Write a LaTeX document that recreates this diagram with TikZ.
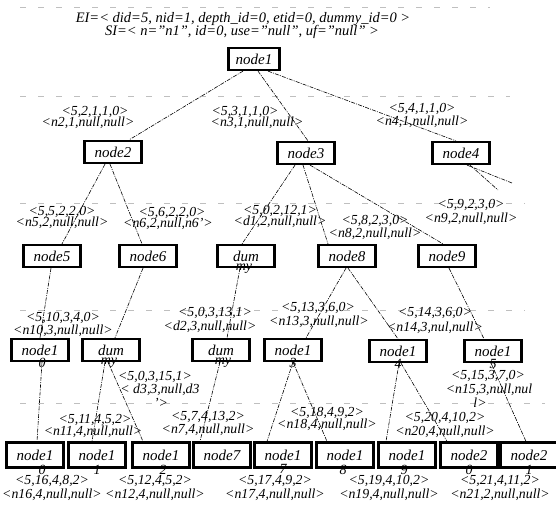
\documentclass[tikz,border=0pt]{standalone}
\usepackage{fontspec}
\setmainfont{Liberation Serif}
\begin{document}
\begin{tikzpicture}[x=1pt,y=-1pt,
  box/.style={draw, line width=2.2pt, minimum width=57pt, minimum height=22pt, inner sep=0pt, fill=white, font=\fontsize{15}{15}\selectfont\itshape},
  topbox/.style={box, minimum width=51pt},
  lowbox/.style={box, minimum height=25pt},
  lab/.style={inner sep=0pt, font=\fontsize{13.8}{13.8}\selectfont\itshape},
  ovf/.style={inner sep=0pt, font=\fontsize{14}{14}\selectfont\itshape},
  head/.style={inner sep=0pt, font=\fontsize{14.5}{14.5}\selectfont\itshape},
  edge/.style={line width=0.6pt, dash pattern=on 4pt off 1.2pt on 1pt off 1.2pt},
  guide/.style={gray!50, line width=0.7pt, dash pattern=on 6pt off 12pt}]
\useasboundingbox (0,0) rectangle (556,508);
% guide lines
\draw[guide] (20,7) -- (490,7);
\draw[guide] (20,96) -- (510,96);
\draw[guide] (20,203) -- (525,203);
\draw[guide] (20,310) -- (525,310);
\draw[guide] (20,403) -- (545,403);
% header
\node[head] (ei) at (243,19) {EI=< did=5, nid=1, depth\_id=0, etid=0, dummy\_id=0 >};
\node[head] (si) at (242,32) {SI=< n="n1", id=0, use="null", uf="null" >};
% nodes row 0-1
\node[topbox] (n1) at (254,59) {node1};
\node[box] (n2) at (113,152) {node2};
\node[box] (n3) at (306,153) {node3};
\node[box] (n4) at (461,153) {node4};
% row 2
\node[box] (n5) at (52,256) {node5};
\node[box] (n6) at (148,256) {node6};
\node[box] (d1) at (246,256) {dum};
\node[box] (n8) at (347,256) {node8};
\node[box] (n9) at (447,256) {node9};
% row 3
\node[box] (n10) at (40,350) {node1};
\node[box] (d3) at (111,350) {dum};
\node[box] (d2) at (221,350) {dum};
\node[box] (n13) at (293,350) {node1};
\node[box] (n14) at (398,351) {node1};
\node[box] (n15) at (493,351) {node1};
% row 4
\node[lowbox] (n16) at (35,455) {node1};
\node[lowbox] (n11) at (97,455) {node1};
\node[lowbox] (n12) at (161,455) {node1};
\node[lowbox] (n7) at (222,455) {node7};
\node[lowbox] (n17) at (283,455) {node1};
\node[lowbox] (n18) at (345,455) {node1};
\node[lowbox] (n19) at (407,455) {node1};
\node[lowbox] (n20) at (469,455) {node2};
\node[lowbox] (n21) at (529,455) {node2};
% overflow text
\node[ovf, anchor=north] (d1o) at ([xshift=-2pt,yshift=4pt]d1.south) {my};
\node[ovf, anchor=north] (n10o) at ([xshift=2pt,yshift=4pt]n10.south) {0};
\node[ovf, anchor=north] (d3o) at ([xshift=-2pt,yshift=4pt]d3.south) {my};
\node[ovf, anchor=north] (d2o) at ([xshift=2pt,yshift=4pt]d2.south) {my};
\node[ovf, anchor=north] (n13o) at ([yshift=4pt]n13.south) {3};
\node[ovf, anchor=north] (n14o) at ([yshift=4pt]n14.south) {4};
\node[ovf, anchor=north] (n15o) at ([yshift=4pt]n15.south) {5};
\node[ovf, anchor=north] (n16o) at ([xshift=7pt,yshift=4pt]n16.south) {0};
\node[ovf, anchor=north] (n11o) at ([yshift=4pt]n11.south) {1};
\node[ovf, anchor=north] (n12o) at ([xshift=2pt,yshift=4pt]n12.south) {2};
\node[ovf, anchor=north] (n17o) at ([yshift=4pt]n17.south) {7};
\node[ovf, anchor=north] (n18o) at ([xshift=-2pt,yshift=4pt]n18.south) {8};
\node[ovf, anchor=north] (n19o) at ([xshift=-3pt,yshift=4pt]n19.south) {9};
\node[ovf, anchor=north] (n20o) at ([yshift=4pt]n20.south) {0};
\node[ovf, anchor=north] (n21o) at ([yshift=4pt]n21.south) {1};
% edges
\draw[edge] ([xshift=-11pt]n1.south) -- ([xshift=16pt]n2.north);
\draw[edge] ([xshift=4pt]n1.south) -- ([xshift=2pt]n3.north);
\draw[edge] ([xshift=14pt]n1.south) -- ([xshift=-5pt]n4.north);
\coordinate (o1) at (512,183);
\coordinate (o2) at (498,190);
\draw[edge] ([xshift=6pt]n4.south) -- (o1);
\draw[edge] ([xshift=9pt]n4.south) -- (o2);
\draw[edge] ([xshift=-8pt]n2.south) -- ([xshift=10pt]n5.north);
\draw[edge] ([xshift=-3pt]n2.south) -- ([xshift=-6pt]n6.north);
\draw[edge] ([xshift=-11pt]n3.south) -- ([xshift=-4pt]d1.north);
\draw[edge] ([xshift=-3pt]n3.south) -- ([xshift=-19pt]n8.north);
\draw[edge] ([xshift=4pt]n3.south) -- ([xshift=-4pt]n9.north);
\draw[edge] ([xshift=-1pt]n5.south) -- ([xshift=0pt]n10.north);
\draw[edge] ([xshift=-5pt]n6.south) -- ([xshift=4pt]d3.north);
\draw[edge] ([xshift=-6pt]d1.south) -- ([xshift=6pt]d2.north);
\draw[edge] ([xshift=-1pt]n8.south) -- ([xshift=13pt]n13.north);
\draw[edge] ([xshift=1pt]n8.south) -- ([xshift=0pt]n14.north);
\draw[edge] ([xshift=2pt]n9.south) -- ([xshift=-9pt]n15.north);
\draw[edge] ([xshift=2pt]n10.south) -- ([xshift=2pt]n16.north);
\draw[edge] ([xshift=-6pt]d3.south) -- ([xshift=-5pt]n11.north);
\draw[edge] ([xshift=-3pt]d3.south) -- ([xshift=-18pt]n12.north);
\draw[edge] ([xshift=-1pt]d2.south) -- ([xshift=-22pt]n7.north);
\draw[edge] (n13.south) -- ([xshift=-16pt]n17.north);
\draw[edge] (n13.south) -- ([xshift=-18pt]n18.north);
\draw[edge] ([xshift=1pt]n14.south) -- ([xshift=-21pt]n19.north);
\draw[edge] ([xshift=3pt]n14.south) -- ([xshift=-22pt]n20.north);
\draw[edge] ([xshift=-2pt]n15.south) -- ([xshift=-3pt]n21.north);
% labels level 1
\node[lab] (l2a) at (95,112) {<5,2,1,1,0>};
\node[lab] (l2b) at (88,123) {<n2,1,null,null>};
\node[lab] (l3a) at (245,112) {<5,3,1,1,0>};
\node[lab] (l3b) at (257,123) {<n3,1,null,null>};
\node[lab] (l4a) at (422,109) {<5,4,1,1,0>};
\node[lab] (l4b) at (422,122) {<n4,1,null,null>};
% labels level 2
\node[lab] (l5a) at (62,212) {<5,5,2,2,0>};
\node[lab] (l5b) at (62,223) {<n5,2,null,null>};
\node[lab] (l6a) at (172,213) {<5,6,2,2,0>};
\node[lab] (l6b) at (168,224) {<n6,2,null,n6'>};
\node[lab] (ld1a) at (280,211) {<5,0,2,12,1>};
\node[lab] (ld1b) at (280,222) {<d1,2,null,null>};
\node[lab] (l8a) at (375,221) {<5,8,2,3,0>};
\node[lab] (l8b) at (375,234) {<n8,2,null,null>};
\node[lab] (l9a) at (471,205) {<5,9,2,3,0>};
\node[lab] (l9b) at (471,219) {<n9,2,null,null>};
% labels level 3
\node[lab] (l10a) at (63,318) {<5,10,3,4,0>};
\node[lab] (l10b) at (63,331) {<n10,3,null,null>};
\node[lab] (ld2a) at (215,313) {<5,0,3,13,1>};
\node[lab] (ld2b) at (210,327) {<d2,3,null,null>};
\node[lab] (l13a) at (318,308) {<5,13,3,6,0>};
\node[lab] (l13b) at (319,322) {<n13,3,null,null>};
\node[lab] (l14a) at (435,313) {<5,14,3,6,0>};
\node[lab] (l14b) at (435,328) {<n14,3,nul,null>};
\node[lab] (l15a) at (488,376) {<5,15,3,7,0>};
\node[lab] (l15b) at (489,390) {<n15,3,null,nul};
\node[lab] (l15c) at (480,403) {l>};
\node[lab] (ld3a) at (155,377) {<5,0,3,15,1>};
\node[lab] (ld3b) at (160,390) {< d3,3,null,d3};
\node[lab] (ld3c) at (161,403) {'>};
% labels level 4 (above)
\node[lab] (l11a) at (95,420) {<5,11,4,5,2>};
\node[lab] (l11b) at (93,432) {<n11,4,null,null>};
\node[lab] (l7a) at (208,417) {<5,7,4,13,2>};
\node[lab] (l7b) at (208,430) {<n7,4,null,null>};
\node[lab] (l18a) at (327,413) {<5,18,4,9,2>};
\node[lab] (l18b) at (327,425) {<n18,4,null,null>};
\node[lab] (l20a) at (445,418) {<5,20,4,10,2>};
\node[lab] (l20b) at (445,432) {<n20,4,null,null>};
% labels level 4 (below)
\node[lab] (l16a) at (52,481) {<5,16,4,8,2>};
\node[lab] (l16b) at (52,495) {<n16,4,null,null>};
\node[lab] (l12a) at (155,481) {<5,12,4,5,2>};
\node[lab] (l12b) at (155,495) {<n12,4,null,null>};
\node[lab] (l17a) at (275,481) {<5,17,4,9,2>};
\node[lab] (l17b) at (275,495) {<n17,4,null,null>};
\node[lab] (l19a) at (389,481) {<5,19,4,10,2>};
\node[lab] (l19b) at (389,495) {<n19,4,null,null>};
\node[lab] (l21a) at (500,481) {<5,21,4,11,2>};
\node[lab] (l21b) at (500,495) {<n21,2,null,null>};
\end{tikzpicture}
\end{document}
